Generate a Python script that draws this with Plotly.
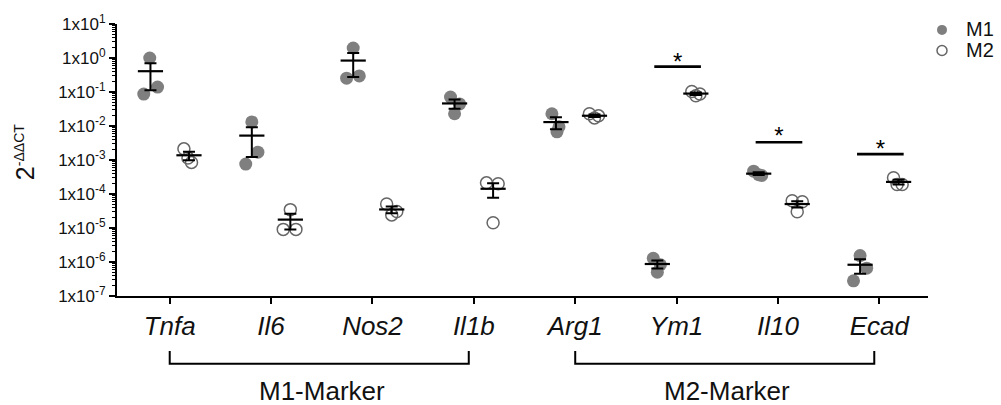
import numpy as np
import plotly.graph_objects as go

# ---------------- data ----------------
genes = ["Tnfa", "Il6", "Nos2", "Il1b", "Arg1", "Ym1", "Il10", "Ecad"]
groups = ["M1", "M2"]

m1_values = [
    [1.0, 0.14, 0.087],
    [0.0132, 0.0017, 0.00076],
    [1.97, 0.255, 0.297],
    [0.0707, 0.0229, 0.0446],
    [0.0229, 0.00676, 0.0095],
    [1.29e-6, 5.0e-7, 8.3e-7],
    [4.7e-4, 3.7e-4, 3.5e-4],
    [1.55e-6, 2.8e-7, 6.6e-7],
]
m2_values = [
    [0.00213, 0.00115, 0.00085],
    [3.47e-5, 9.1e-6, 9.1e-6],
    [5.06e-5, 2.43e-5, 3.05e-5],
    [2.13e-4, 2.0e-4, 1.42e-5],
    [0.0229, 0.0173, 0.0199],
    [0.104, 0.078, 0.0875],
    [6.3e-5, 3.0e-5, 5.9e-5],
    [3.0e-4, 1.9e-4, 1.9e-4],
]
# horizontal scatter of the replicate dots (category units)
m1_jitter = [
    [-0.007, 0.07, -0.066],
    [0.0, 0.06, -0.06],
    [0.0, -0.065, 0.06],
    [-0.04, 0.0, 0.05],
    [-0.04, 0.01, 0.03],
    [-0.04, 0.0, 0.03],
    [-0.05, 0.0, 0.03],
    [0.0, -0.065, 0.065],
]
m2_jitter = [
    [-0.05, -0.01, 0.025],
    [0.0, -0.07, 0.055],
    [-0.05, 0.0, 0.05],
    [-0.065, 0.05, 0.0],
    [-0.05, 0.0, 0.04],
    [-0.04, 0.0, 0.04],
    [-0.05, 0.0, 0.05],
    [-0.05, -0.015, 0.035],
]
# significance: gene index, bar height, star height
sig_genes = [5, 6, 7]
sig_bar_y = [0.556, 0.00333, 0.00149]
sig_star_y = [0.667, 0.00432, 0.0019]
sig_text = ["*", "*", "*"]

ytick_exp = list(range(-7, 2))
bracket_labels = ["M1-Marker", "M2-Marker"]
bracket_spans = [(0, 3), (4, 7)]

# ---------------- styling ----------------
FONT = "Arial, Liberation Sans, sans-serif"
GRAY = "#7f7f7f"
OPEN_GRAY = "#666666"
TXT = "#111111"
OFF = {"M1": -0.19, "M2": 0.19}

L, R, T, B = 117, 73, 19, 109
W, H = 1001, 405
plot_w = W - L - R
plot_h = H - T - B


def py_to_paper(py):
    return (H - B - py) / plot_h


def px_to_paper(px):
    return (px - L) / plot_w


fig = go.Figure()

for g, vals, jit in [("M1", m1_values, m1_jitter), ("M2", m2_values, m2_jitter)]:
    xs, ys = [], []
    for i, (v, j) in enumerate(zip(vals, jit)):
        for vv, jj in zip(v, j):
            xs.append(i + OFF[g] + jj)
            ys.append(vv)
    if g == "M1":
        marker = dict(symbol="circle", size=13, color=GRAY, line=dict(width=0))
    else:
        marker = dict(symbol="circle-open", size=12, color=OPEN_GRAY,
                      line=dict(width=1.5, color=OPEN_GRAY))
    fig.add_trace(go.Scatter(x=xs, y=ys, mode="markers", marker=marker,
                             showlegend=False, hoverinfo="skip"))

for g, vals in [("M1", m1_values), ("M2", m2_values)]:
    arr = np.array(vals, dtype=float)
    means = arr.mean(axis=1)
    sems = arr.std(axis=1, ddof=1) / np.sqrt(arr.shape[1])
    fig.add_trace(go.Scatter(
        x=[i + OFF[g] for i in range(len(genes))], y=means, mode="markers",
        marker=dict(symbol="line-ew", size=18, color="black",
                    line=dict(width=2.2, color="black")),
        error_y=dict(type="data", array=sems, symmetric=True, width=6,
                     thickness=2, color="black"),
        showlegend=False, hoverinfo="skip"))

# significance bars and stars
for gi, yb, ys_, t in zip(sig_genes, sig_bar_y, sig_star_y, sig_text):
    fig.add_trace(go.Scatter(x=[gi - 0.22, gi + 0.24], y=[yb, yb], mode="lines",
                             line=dict(color="black", width=2.7),
                             showlegend=False, hoverinfo="skip"))
    fig.add_trace(go.Scatter(x=[gi + 0.01], y=[ys_], mode="text", text=[t],
                             textposition="middle center", cliponaxis=False,
                             textfont=dict(family=FONT, size=24, color="black"),
                             showlegend=False, hoverinfo="skip"))

shapes = []
for (a, b) in bracket_spans:
    x0, x1 = a, b - 0.05
    y0, y1 = py_to_paper(352), py_to_paper(365)
    shapes.append(dict(type="path", xref="x", yref="paper",
                       path=f"M {x0},{y0} L {x0},{y1} L {x1},{y1} L {x1},{y0}",
                       line=dict(color="black", width=2)))

annotations = []
for (a, b), lab in zip(bracket_spans, bracket_labels):
    annotations.append(dict(x=(a + b) / 2, y=py_to_paper(393), xref="x", yref="paper",
                            text=lab, showarrow=False, yanchor="middle",
                            font=dict(family=FONT, size=26, color=TXT)))
annotations.append(dict(x=px_to_paper(9), y=py_to_paper(150), xref="paper",
                        yref="paper",
                        text="2<sup><span style='font-size:14px'>-ΔΔCT</span></sup>",
                        textangle=-90, showarrow=False,
                        font=dict(family=FONT, size=25, color=TXT)))

# legend (drawn manually to match compact spacing)
legend_rows = [("M1", 25), ("M2", 46)]
for name, cy in legend_rows:
    filled = name == "M1"
    shapes.append(dict(type="circle", xref="paper", yref="paper",
                       xsizemode="pixel", ysizemode="pixel",
                       xanchor=px_to_paper(942), yanchor=py_to_paper(cy),
                       x0=-5, x1=5, y0=-5, y1=5,
                       fillcolor=GRAY if filled else "rgba(0,0,0,0)",
                       line=dict(color=GRAY if filled else OPEN_GRAY,
                                 width=0 if filled else 1.5)))
    annotations.append(dict(x=px_to_paper(964), y=py_to_paper(cy - 1), xref="paper",
                            yref="paper", text=name, showarrow=False,
                            xanchor="left", yanchor="middle",
                            font=dict(family=FONT, size=20, color=TXT)))

minor_vals = [m * 10.0 ** k for k in range(-7, 1) for m in range(2, 10)]

fig.update_layout(
    width=W, height=H,
    margin=dict(l=L, r=R, t=T, b=B, pad=0),
    paper_bgcolor="white", plot_bgcolor="white",
    font=dict(family=FONT, color=TXT),
    shapes=shapes, annotations=annotations,
    showlegend=False,
    xaxis=dict(range=[-0.52, 7.48], tickmode="array", tickvals=list(range(len(genes))),
               ticktext=[f"<i>{g}</i>" for g in genes], showline=True,
               linecolor="black", linewidth=2, ticks="outside", ticklen=6, tickwidth=2,
               tickcolor="black", tickfont=dict(family=FONT, size=26, color=TXT),
               showgrid=False, zeroline=False),
    yaxis=dict(type="log", range=[-7, 1], tickmode="array",
               tickvals=[10.0 ** e for e in ytick_exp],
               ticktext=[f"1x10<sup>{e}</sup>" for e in ytick_exp],
               showline=True, linecolor="black", linewidth=2, ticks="outside",
               ticklen=6, tickwidth=2, tickcolor="black",
               minor=dict(tickmode="array", tickvals=minor_vals, ticks="outside",
                          ticklen=3, tickwidth=1, tickcolor="black", showgrid=False),
               tickfont=dict(family=FONT, size=17, color=TXT),
               showgrid=False, zeroline=False),
)

fig.write_html("out.html")
